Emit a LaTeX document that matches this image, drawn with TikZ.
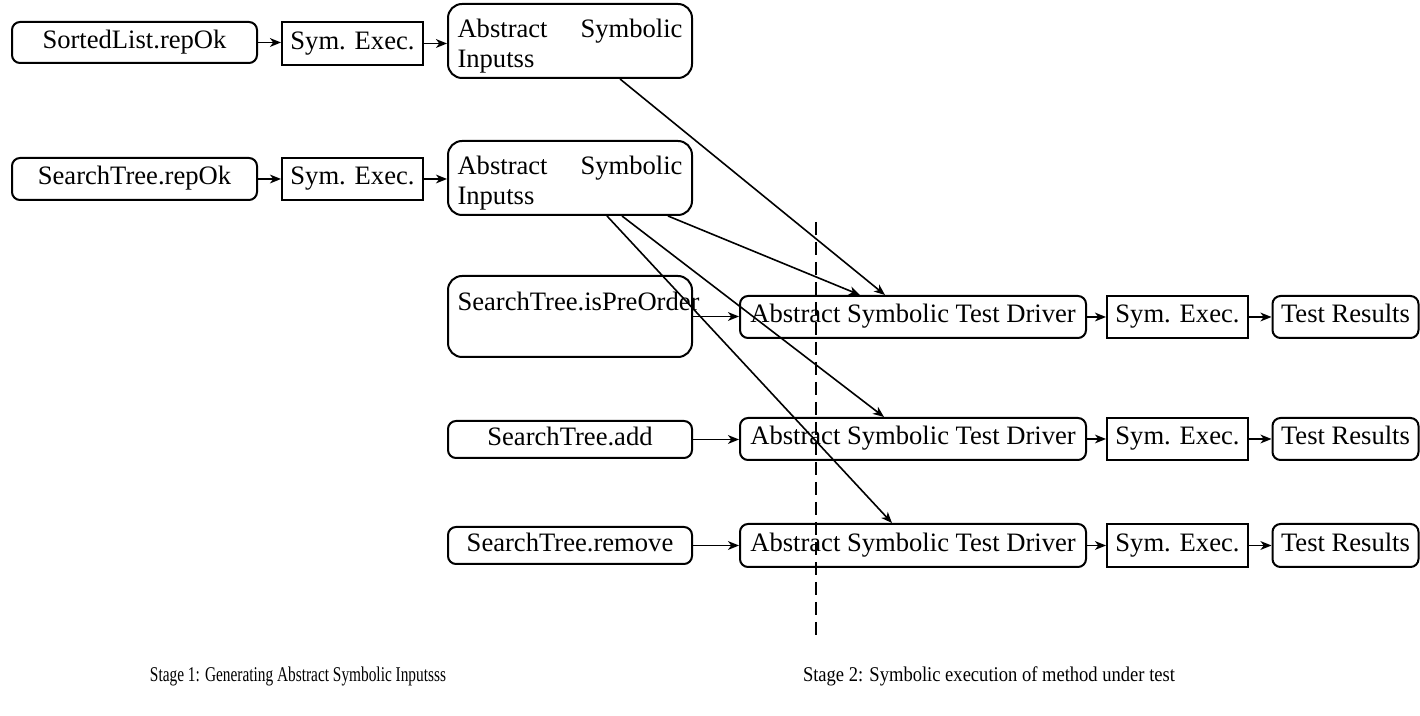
\documentclass[tikz,border=0pt]{standalone}
\usepackage{fontspec}
\setmainfont{Liberation Serif}
\usetikzlibrary{arrows.meta}
\newcommand{\mainsz}{\fontsize{13.3}{15}\selectfont}
\newcommand{\capsz}{\fontsize{10.5}{12}\selectfont}
\tikzset{
  base/.style={draw, line width=1pt, inner sep=0pt, font=\mainsz},
  rbox/.style={base, rounded corners=4pt, text height=8.8pt, text depth=2.8pt},
  sbox/.style={base, text height=8.8pt, text depth=2.8pt},
  bigbox/.style={base, rounded corners=7pt, minimum width=122pt, text width=112.5pt, align=left},
  arr/.style={-{Stealth[length=5.5pt,width=4.4pt,inset=1.6pt]}, line width=0.8pt},
  sepline/.style={line width=1pt, dash pattern=on 6.5pt off 3.5pt},
  caption/.style={font=\capsz, inner sep=0pt}
}
\begin{document}
\begin{tikzpicture}[x=0.5pt,y=-0.5pt]
\useasboundingbox (0,0) rectangle (1420,716);
% row 1
\node[rbox, minimum width=122.5pt, minimum height=20.5pt] (sl) at (134.5,42.5) {SortedList.repOk};
\node[sbox, minimum width=70.5pt, minimum height=21.5pt] (se1) at (352.5,43.5) {Sym. Exec.};
\node[bigbox, minimum height=37pt] (asi1) at (570,41) {\rule{0pt}{14pt}Abstract\hfill Symbolic\\Inputss};
% row 2
\node[rbox, minimum width=122.5pt, minimum height=21pt] (st) at (134.5,179) {SearchTree.repOk};
\node[sbox, minimum width=70.5pt, minimum height=21pt] (se2) at (352.5,179) {Sym. Exec.};
\node[bigbox, minimum height=37pt] (asi2) at (570,178) {\rule{0pt}{14pt}Abstract\hfill Symbolic\\Inputss};
% left column methods
\node[bigbox, minimum height=40.5pt] (pre) at (570,316.5) {SearchTree.isPreOrder\\\mbox{}};
\node[rbox, minimum width=122pt, minimum height=18.5pt] (add) at (570,439.5) {SearchTree.add};
\node[rbox, minimum width=122pt, minimum height=18.5pt] (rem) at (570,545.5) {SearchTree.remove};
% drivers
\node[rbox, minimum width=173pt, minimum height=21pt] (d1) at (913,317) {Abstract Symbolic Test Driver};
\node[sbox, minimum width=70.5pt, minimum height=21pt] (e1) at (1177.5,317) {Sym. Exec.};
\node[rbox, minimum width=73pt, minimum height=21pt] (r1) at (1345.5,317) {Test Results};
\node[rbox, minimum width=173pt, minimum height=21pt] (d2) at (913,439) {Abstract Symbolic Test Driver};
\node[sbox, minimum width=70.5pt, minimum height=21pt] (e2) at (1177.5,439) {Sym. Exec.};
\node[rbox, minimum width=73pt, minimum height=21pt] (r2) at (1345.5,439) {Test Results};
\node[rbox, minimum width=173pt, minimum height=21.5pt] (d3) at (913,545.5) {Abstract Symbolic Test Driver};
\node[sbox, minimum width=70.5pt, minimum height=21.5pt] (e3) at (1177.5,545.5) {Sym. Exec.};
\node[rbox, minimum width=73pt, minimum height=21.5pt] (r3) at (1345.5,545.5) {Test Results};
% horizontal arrows
\draw[arr] (sl.east) -- (sl.east -| se1.west);
\draw[arr] (se1.east) -- (se1.east -| asi1.west);
\draw[arr] (st.east) -- (st.east -| se2.west);
\draw[arr] (se2.east) -- (se2.east -| asi2.west);
\draw[arr] (pre.east) -- (pre.east -| d1.west);
\draw[arr] (add.east) -- (add.east -| d2.west);
\draw[arr] (rem.east) -- (rem.east -| d3.west);
\draw[arr] (d1) -- (e1);
\draw[arr] (e1) -- (r1);
\draw[arr] (d2) -- (e2);
\draw[arr] (e2) -- (r2);
\draw[arr] (d3) -- (e3);
\draw[arr] (e3) -- (r3);
% diagonal arrows
\draw[arr] ([xshift=25pt]asi1.south) -- ([xshift=-14pt]d1.north);
\draw[arr] ([xshift=49pt]asi2.south) -- ([xshift=-26.5pt]d1.north);
\draw[arr] ([xshift=26pt]asi2.south) -- ([xshift=-14.5pt]d2.north);
\draw[arr] ([xshift=18.5pt]asi2.south) -- ([xshift=-10.5pt]d3.north);
% separator
\coordinate (sept) at (816,222);
\coordinate (sepb) at (816,635);
\draw[sepline] (sept) -- (sepb);
% captions
\node[caption] (cap1) at (298,676) {\resizebox{148pt}{\height}{Stage 1: Generating Abstract Symbolic Inputsss}};
\node[caption] (cap2) at (989,676) {\resizebox{186pt}{\height}{Stage 2: Symbolic execution of method under test}};
\end{tikzpicture}
\end{document}
